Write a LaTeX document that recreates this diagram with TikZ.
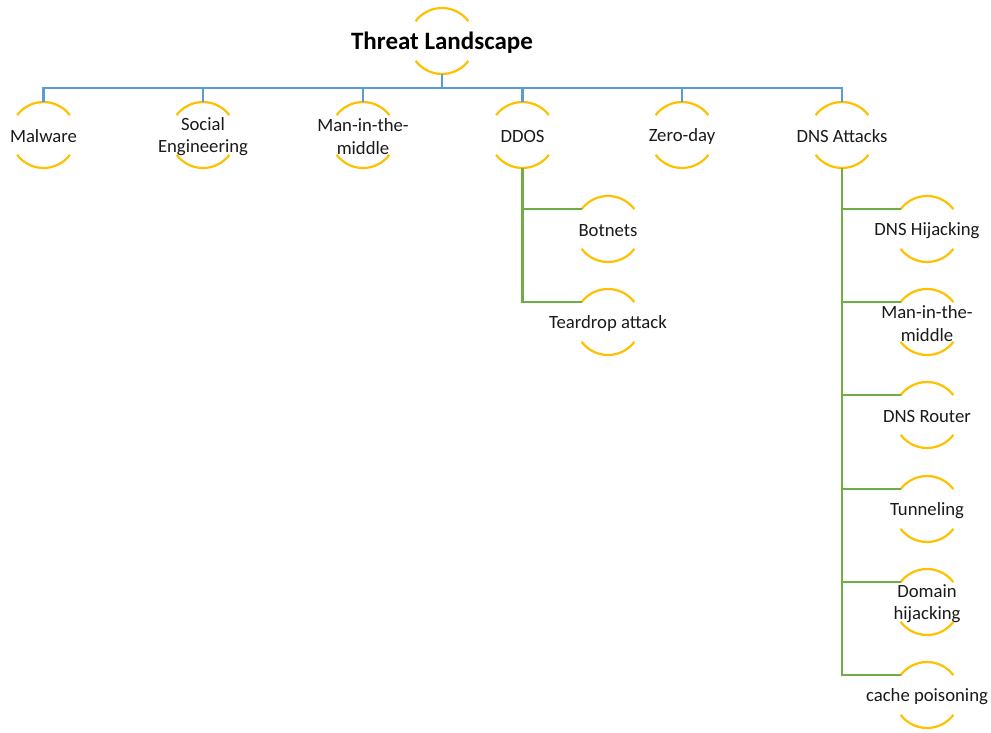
\documentclass[tikz,border=0pt]{standalone}
\usepackage{fontspec}
\setmainfont{Carlito}
\usetikzlibrary{calc}
\definecolor{bl}{HTML}{5B9BD5}
\definecolor{gr}{HTML}{70AD47}
\definecolor{au}{HTML}{FFC000}
\definecolor{tx}{HTML}{1A1A1A}
\tikzset{
  bub/.style={circle,minimum size=66bp,inner sep=0pt,outer sep=0pt},
  txt/.style={align=center,inner sep=0pt,text=tx,yshift=-1.5bp,font=\fontsize{18.7bp}{22.5bp}\selectfont},
  ttl/.style={align=center,inner sep=0pt,text=black,yshift=-1.5bp,font=\fontsize{25bp}{30bp}\selectfont\bfseries},
  arcs/.style={draw=au,line width=2.2bp},
  bline/.style={draw=bl,line width=2.2bp},
  gline/.style={draw=gr,line width=2.2bp},
}
\newcommand\bub[5][txt]{%
  \node[bub] (#2) at (#3,#4) {};
  \node[#1] (#2t) at (#2.center) {#5};
  \draw[arcs] (#2.37) arc[start angle=37,end angle=143,radius=33bp]
              (#2.217) arc[start angle=217,end angle=323,radius=33bp];
}
\begin{document}
\begin{tikzpicture}[x=1bp,y=1bp]
\useasboundingbox (0,0) rectangle (991,-733);
\bub[ttl]{top}{442}{-41}{Threat Landscape}
\bub{mal}{43.5}{-135}{Malware}
\bub{soc}{203}{-135}{Social\\Engineering}
\bub{mitm}{363}{-135}{Man-in-the-\\middle}
\bub{ddos}{522.5}{-135}{DDOS}
\bub{zero}{682}{-135}{Zero-day}
\bub{dns}{842}{-135}{DNS Attacks}
\bub{bot}{608}{-229}{Botnets}
\bub{tear}{608}{-322}{Teardrop attack}
\bub{hij}{927}{-229}{DNS Hijacking}
\bub{dmitm}{927}{-322}{Man-in-the-\\middle}
\bub{rout}{927}{-415}{DNS Router}
\bub{tun}{927}{-509}{Tunneling}
\bub{dom}{927}{-602}{Domain\\hijacking}
\bub{cache}{927}{-695}{cache poisoning}
\foreach \c in {mal,soc,mitm,ddos,zero,dns}
  \draw[bline] (top.south) -- ++(0,-14) -| (\c.north);
\foreach \c in {bot,tear}
  \draw[gline] (ddos.south) |- (\c.143);
\foreach \c in {hij,dmitm,rout,tun,dom,cache}
  \draw[gline] (dns.south) |- (\c.143);
\end{tikzpicture}
\end{document}
